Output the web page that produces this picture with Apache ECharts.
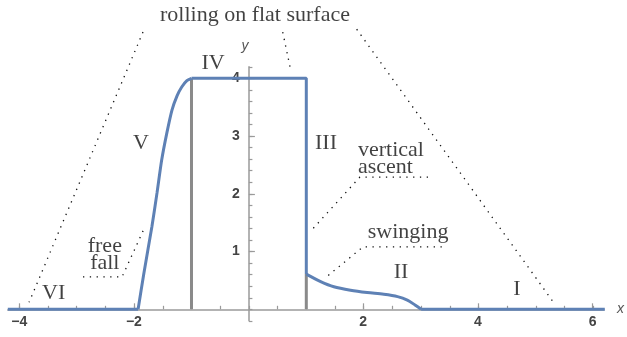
<!DOCTYPE html>
<html>
<head>
<meta charset="utf-8">
<script src="https://cdn.jsdelivr.net/npm/echarts@6/dist/echarts.min.js"></script>
<style>
  html, body { margin: 0; padding: 0; background: #fff; }
  #main { width: 627px; height: 337px; }
</style>
</head>
<body>
<div id="main"></div>
<script>
// axis ranges and ticks
var xRange = [-4.2, 6.2];
var yRange = [-0.2, 4.2];
var xLabelTicks = [-4, -2, 2, 4, 6];
var yLabelTicks = [1, 2, 3, 4];

// blue trajectory, piece by piece (VI, V, IV+III, II, I)
var segVI = [[-4.2, 0], [-1.93, 0]];
var segV = [[-1.93, 0], [-1.83, 0.62], [-1.69, 1.43], [-1.60, 2.02], [-1.52, 2.58], [-1.43, 3.05], [-1.34, 3.45], [-1.25, 3.70], [-1.17, 3.85], [-1.08, 3.96], [-1, 4]];
var segIVIII = [[-1, 4], [1, 4], [1, 0.61]];
var segII = [[1, 0.61], [1.25, 0.48], [1.48, 0.39], [1.77, 0.33], [2.06, 0.29], [2.35, 0.26], [2.59, 0.22], [2.76, 0.16], [2.90, 0.07], [3, 0]];
var segI = [[3, 0], [6.2, 0]];

// grey verticals
var greyLeft = [[-1, 0], [-1, 4]];
var greyRight = [[1, 0], [1, 0.61]];

// dotted pointer lines
var pointers = [
    [[-1.845, 4.80], [-3.83, 0.12]],
    [[0.589, 4.80], [0.716, 4.20]],
    [[1.878, 4.85], [5.30, 0.13]],
    [[3.12, 2.29], [1.934, 2.29], [1.064, 1.34]],
    [[3.36, 1.08], [1.986, 1.08], [1.326, 0.54]],
    [[-2.89, 0.56], [-2.21, 0.56], [-1.81, 1.43]]
];

// phase numerals and notes
var numerals = [
    ['VI', -3.40, 0.27],
    ['V', -1.88, 2.88],
    ['IV', -0.625, 4.26],
    ['III', 1.343, 2.88],
    ['II', 2.65, 0.65],
    ['I', 4.67, 0.35]
];
var notes = [
    ['rolling on flat surface', 0.106, 5.10, 'center'],
    ['vertical\nascent', 1.90, 2.60, 'left'],
    ['swinging', 2.07, 1.34, 'left'],
    ['free\nfall', -2.51, 0.95, 'center']
];

function range(a, b, step) {
    var out = [];
    for (var v = a; v <= b + 1e-9; v += step) out.push(Math.round(v * 100) / 100);
    return out;
}
var xMinorTicks = range(-4, 6, 0.5);
var yMinorTicks = range(-0.2, 4.2, 0.2);

var blue = '#5e81b5';
var grey = '#8a8a8a';
var axisColor = '#9a9a9a';
var serif = '"Liberation Serif", "DejaVu Serif", serif';
var sans = '"Liberation Sans", Arial, sans-serif';

function curve(data, smooth) {
    return {
        type: 'line', data: data, showSymbol: false, smooth: smooth || false, z: 5,
        lineStyle: { color: blue, width: 3 }, silent: true
    };
}

var series = [
    { type: 'line', data: greyLeft, showSymbol: false, z: 4, lineStyle: { color: grey, width: 3 } },
    { type: 'line', data: greyRight, showSymbol: false, z: 4, lineStyle: { color: grey, width: 3 } },
    curve(segVI), curve(segV, 0.2), curve(segIVIII), curve(segII, 0.3), curve(segI)
];

pointers.forEach(function (p) {
    series.push({
        type: 'line', data: p, showSymbol: false, clip: false, z: 3,
        lineStyle: { color: '#111', width: 1.3, type: [1.3, 5.5] }
    });
});

series.push({
    type: 'scatter', symbolSize: 0, clip: false, z: 6,
    data: numerals.map(function (n) { return { name: n[0], value: [n[1], n[2]] }; }),
    label: { show: true, position: 'inside', formatter: '{b}', color: '#111', fontFamily: serif, fontSize: 22 }
});
series.push({
    type: 'scatter', symbolSize: 0, clip: false, z: 6,
    data: notes.map(function (n) {
        return { name: n[0], value: [n[1], n[2]], label: { align: n[3] } };
    }),
    label: { show: true, position: [0, 0], verticalAlign: 'middle', formatter: '{b}', color: '#111', fontFamily: serif, fontSize: 22, lineHeight: 17 }
});

// grids: 0 plot, 1-2 x axis lying on y = 0, 3-4 y axis lying on x = 0
var plotBox = { left: 7.8, right: 22.2, top: 66.75, bottom: 16.15 };
var xBox = { left: 7.8, right: 22.2, top: 66.75, bottom: 27.7 };
var yBox = { left: 248.9, right: 22.2, top: 66.75, bottom: 16.15 };

function hidden(idx, min, max) {
    return { type: 'value', gridIndex: idx, min: min, max: max, show: false };
}
function labelFmt(v) { return String(v).replace('-', '\u2212'); }

var tickText = { color: '#444', fontSize: 14, fontWeight: 'bold', fontFamily: sans };

echarts.init(document.getElementById('main')).setOption({
    animation: false,
    grid: [plotBox, xBox, xBox, yBox, yBox],
    xAxis: [
        hidden(0, xRange[0], xRange[1]),
        {
            type: 'value', gridIndex: 1, min: xRange[0], max: xRange[1], position: 'bottom',
            name: 'x', nameGap: 13,
            nameTextStyle: { fontStyle: 'italic', color: '#555', fontSize: 14, fontFamily: sans },
            axisLine: { onZero: false, lineStyle: { color: axisColor, width: 1.5 } },
            axisTick: { inside: true, length: 6, customValues: xLabelTicks, lineStyle: { color: axisColor, width: 1.2 } },
            axisLabel: Object.assign({ customValues: xLabelTicks, margin: 6, formatter: labelFmt }, tickText),
            splitLine: { show: false }
        },
        {
            type: 'value', gridIndex: 2, min: xRange[0], max: xRange[1], position: 'bottom',
            axisLine: { show: false, onZero: false },
            axisTick: { inside: true, length: 3.5, customValues: xMinorTicks, lineStyle: { color: axisColor, width: 1.2 } },
            axisLabel: { show: false }, splitLine: { show: false }
        },
        hidden(3, 0, xRange[1]),
        hidden(4, 0, xRange[1])
    ],
    yAxis: [
        hidden(0, yRange[0], yRange[1]),
        hidden(1, 0, yRange[1]),
        hidden(2, 0, yRange[1]),
        {
            type: 'value', gridIndex: 3, min: yRange[0], max: yRange[1], position: 'left',
            name: 'y', nameGap: 14,
            nameTextStyle: { fontStyle: 'italic', color: '#555', fontSize: 14, padding: [0, 8, 0, 0], fontFamily: sans },
            axisLine: { onZero: false, lineStyle: { color: axisColor, width: 1.5 } },
            axisTick: { inside: true, length: 6, customValues: yLabelTicks, lineStyle: { color: axisColor, width: 1.2 } },
            axisLabel: Object.assign({ customValues: yLabelTicks, margin: 9 }, tickText),
            splitLine: { show: false }
        },
        {
            type: 'value', gridIndex: 4, min: yRange[0], max: yRange[1], position: 'left',
            axisLine: { show: false, onZero: false },
            axisTick: { inside: true, length: 3.5, customValues: yMinorTicks, lineStyle: { color: axisColor, width: 1.2 } },
            axisLabel: { show: false }, splitLine: { show: false }
        }
    ],
    series: series
});
</script>
</body>
</html>
